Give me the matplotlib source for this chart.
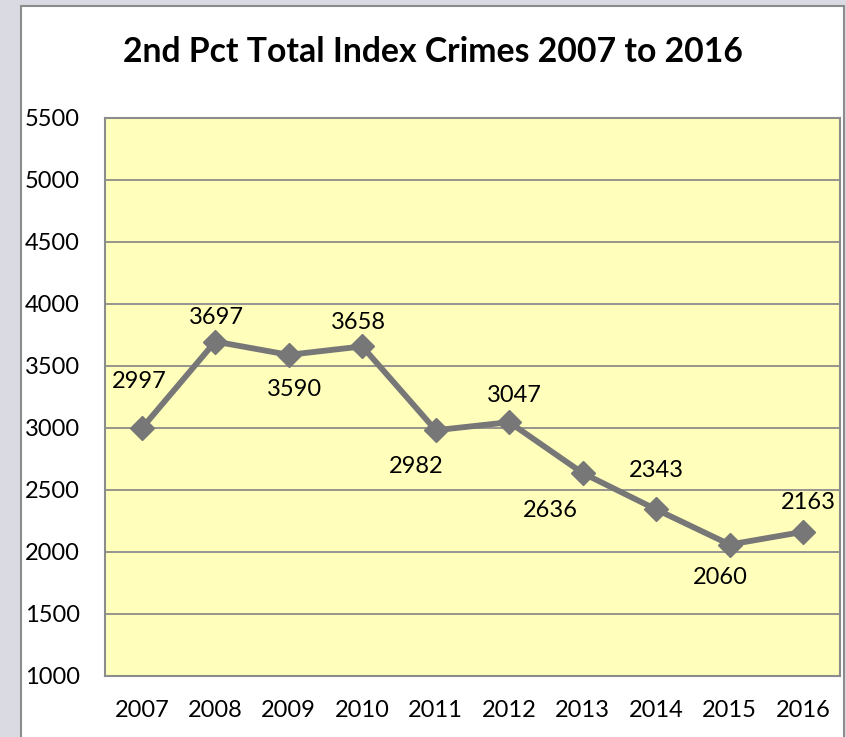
import matplotlib
matplotlib.use("Agg")
import matplotlib.pyplot as plt
from matplotlib.patches import Rectangle

plt.rcParams['font.family'] = ['Lato', 'DejaVu Sans']

years = ["2007", "2008", "2009", "2010", "2011", "2012", "2013", "2014", "2015", "2016"]
crimes = [2997, 3697, 3590, 3658, 2982, 3047, 2636, 2343, 2060, 2163]
y_ticks = [1000, 1500, 2000, 2500, 3000, 3500, 4000, 4500, 5000, 5500]
title = "2nd Pct Total Index Crimes 2007 to 2016"

# offsets (in points) for each value label relative to its marker
label_offsets = [(-2, 34), (1, 17), (4, -25), (-3, 17), (-14, -26),
                 (4, 19), (-23, -27), (0, 28), (-7, -24), (4, 21)]

W, H, DPI = 846, 737, 100
fig = plt.figure(figsize=(W / DPI, H / DPI), dpi=DPI)
fig.patch.set_facecolor("#DADAE2")

# white chart area with thin grey frame
fig.patches.append(Rectangle((21 / W, -0.01), (844 - 21) / W, (H - 6) / H + 0.01,
                             transform=fig.transFigure, facecolor="white",
                             edgecolor="#8C8C8C", linewidth=1.5, zorder=-5))

ax = fig.add_axes([105 / W, (H - 676) / H, (840 - 105) / W, (676 - 118) / H])
ax.set_zorder(2)
ax.set_facecolor("#FFFFBB")

x = list(range(len(years)))
ax.plot(x, crimes, color="#777777", linewidth=4.2, marker="D",
        markersize=12.5, markeredgecolor="#777777", markerfacecolor="#777777",
        zorder=3, clip_on=False)

for xi, v, (dx, dy) in zip(x, crimes, label_offsets):
    ax.annotate(str(v), (xi, v), xytext=(dx, dy), textcoords="offset points",
                ha="center", va="center", fontsize=17, color="black", zorder=4)

ax.set_xlim(-0.5, len(years) - 0.5)
ax.set_ylim(y_ticks[0], y_ticks[-1])
ax.set_yticks(y_ticks)
ax.set_yticklabels([str(t) for t in y_ticks])
ax.set_xticks(x)
ax.set_xticklabels(years)
ax.tick_params(axis="both", length=0, labelsize=17, colors="black")
ax.tick_params(axis="y", pad=18)
ax.tick_params(axis="x", pad=17)

ax.grid(axis="y", color="#8C8C8C", linewidth=1.3)
ax.set_axisbelow(True)
for s in ax.spines.values():
    s.set_color("#8C8C8C")
    s.set_linewidth(1.5)

fig.text(433 / W, 1 - 52 / H, title, ha="center", va="center",
         fontsize=24.3, fontweight="bold", color="black")

fig.savefig("out.png", dpi=DPI, facecolor=fig.get_facecolor())
